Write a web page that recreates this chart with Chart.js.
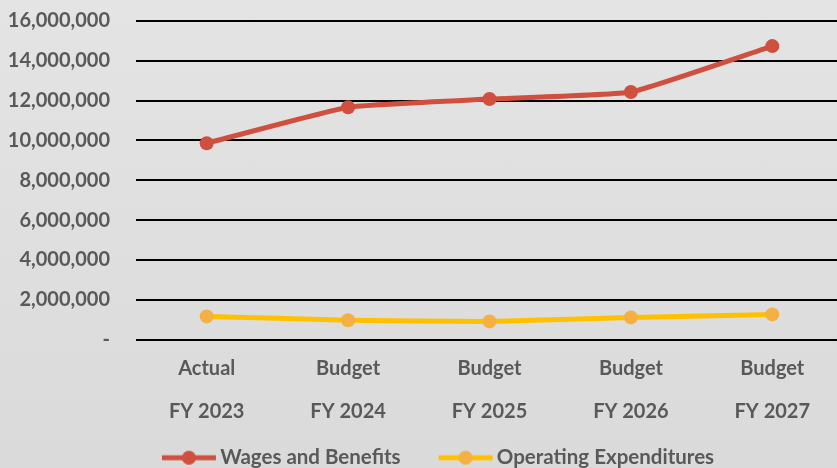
<!DOCTYPE html>
<html>
<head>
<meta charset="utf-8">
<script src="https://cdn.jsdelivr.net/npm/chart.js@4.4.0/dist/chart.umd.min.js"></script>
<style>
  html, body { margin: 0; padding: 0; overflow: hidden; }
  body { background: linear-gradient(#e4e4e4, #dadada); width: 837px; height: 468px; }
  #wrap { width: 850px; height: 468px; }
</style>
</head>
<body>
<div id="wrap"><canvas id="line1" width="850" height="468"></canvas></div>
<script>
var categories = [["Actual", "FY 2023"], ["Budget", "FY 2024"], ["Budget", "FY 2025"], ["Budget", "FY 2026"], ["Budget", "FY 2027"]];
var wages = [9860000, 11670000, 12080000, 12430000, 14740000];
var operating = [1160000, 970000, 910000, 1110000, 1260000];

var textColor = '#595959';
var fontFamily = 'Lato, "Open Sans", sans-serif';

// legend swatch: short line with a dot in the middle (blank margin on the left = gap between items)
function swatch(lineColor, dotColor) {
  var c = document.createElement('canvas');
  c.width = 80; c.height = 16;
  var ctx = c.getContext('2d');
  ctx.strokeStyle = lineColor;
  ctx.lineWidth = 5;
  ctx.beginPath();
  ctx.moveTo(25, 8);
  ctx.lineTo(79, 8);
  ctx.stroke();
  ctx.fillStyle = dotColor;
  ctx.beginPath();
  ctx.arc(52, 8, 7, 0, Math.PI * 2);
  ctx.fill();
  return c;
}

var line1e = document.getElementById("line1");
var line1 = new Chart(line1e, {
  type: 'line',
  data: {
    labels: categories,
    datasets: [{
      label: 'Wages and Benefits',
      data: wages,
      borderColor: '#d05040',
      backgroundColor: '#d05040',
      pointBackgroundColor: '#d05040',
      pointBorderWidth: 0,
      borderWidth: 5,
      pointRadius: 7,
      tension: 0.12
    }, {
      label: 'Operating Expenditures',
      data: operating,
      borderColor: '#ffc000',
      backgroundColor: '#f4b043',
      pointBackgroundColor: '#f4b043',
      pointBorderWidth: 0,
      borderWidth: 5,
      pointRadius: 7,
      tension: 0.12
    }]
  },
  options: {
    responsive: false,
    animation: false,
    layout: { padding: { top: 0, left: 8, right: 0, bottom: -10 } },
    scales: {
      x: {
        offset: true,
        grid: { display: false },
        border: { display: false },
        afterFit: function (scale) {
          scale.height = 88;
          scale.paddingLeft = 0;
          scale.paddingRight = 0;
        },
        ticks: {
          color: textColor,
          padding: 0,
          font: { family: fontFamily, size: 20, weight: 'bold', lineHeight: 2.15 }
        }
      },
      y: {
        min: 0,
        max: 16000000,
        border: { display: false },
        grid: { color: '#000000', lineWidth: 2, drawTicks: false },
        afterFit: function (scale) {
          scale.width = 128;
          scale.paddingTop = 21;
          scale.paddingBottom = 0;
        },
        ticks: {
          stepSize: 2000000,
          color: textColor,
          padding: 26,
          font: { family: fontFamily, size: 20, weight: 'bold' },
          callback: function (v) { return v === 0 ? '-' : v.toLocaleString('en-US'); }
        }
      }
    },
    plugins: {
      tooltip: { enabled: false },
      legend: {
        position: 'bottom',
        labels: {
          color: textColor,
          font: { family: fontFamily, size: 20.5, weight: 'bold' },
          usePointStyle: true,
          pointStyleWidth: 66,
          padding: 20,
          generateLabels: function (chart) {
            return chart.data.datasets.map(function (ds, i) {
              return {
                text: ds.label,
                pointStyle: swatch(ds.borderColor, ds.pointBackgroundColor),
                fontColor: textColor,
                datasetIndex: i,
                hidden: false,
                lineWidth: 0
              };
            });
          }
        }
      }
    }
  }
});
</script>
</body>
</html>
